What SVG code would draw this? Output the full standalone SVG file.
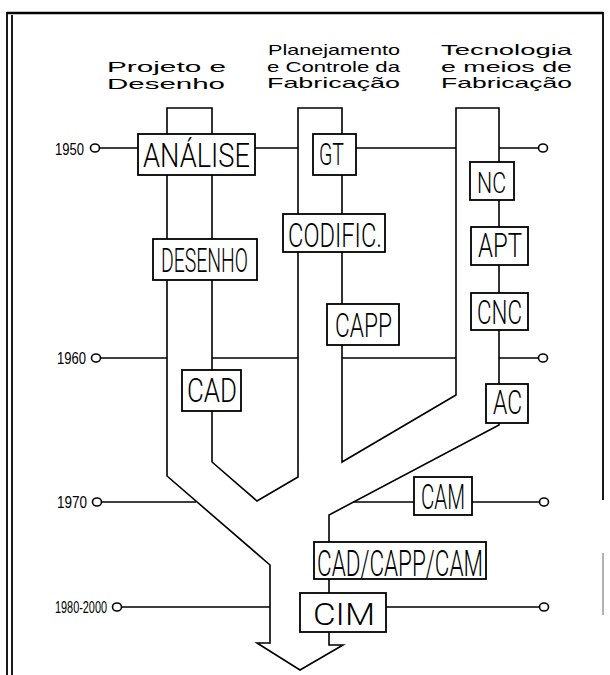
<svg xmlns="http://www.w3.org/2000/svg" width="610" height="675" viewBox="0 0 610 675">
<style>
.ln{fill:none;stroke:#000;stroke-width:1.6;stroke-linejoin:miter}
.bd{fill:none;stroke:#000;stroke-width:1.8}
.box rect{fill:#fff;stroke:#000;stroke-width:1.8}
.box text{font-family:Roboto,"Liberation Sans",sans-serif;font-weight:300;fill:#000}
.hd{font-family:"Liberation Sans",sans-serif;font-size:14.5px;fill:#000}
.yr{font-family:"Liberation Sans",sans-serif;font-size:16px;fill:#000}
.dot{fill:#fff;stroke:#000;stroke-width:1.6}
</style>
<rect width="610" height="675" fill="#fff"/>
<g id="border">
<path class="bd" d="M7,675 V13 H603 V500"/>
<path class="bd" d="M12,675 V15"/>
<path d="M7,13 H603" stroke="#000" stroke-width="2.6"/>
<path d="M603,553 V615" stroke="#999" stroke-width="1.5"/>
</g>
<g id="headers">
<text class="hd" x="107" y="72" textLength="119" lengthAdjust="spacingAndGlyphs">Projeto e</text>
<text class="hd" x="107" y="88.5" textLength="118" lengthAdjust="spacingAndGlyphs">Desenho</text>
<text class="hd" x="268" y="55" textLength="132" lengthAdjust="spacingAndGlyphs">Planejamento</text>
<text class="hd" x="267" y="71.5" textLength="133" lengthAdjust="spacingAndGlyphs">e Controle da</text>
<text class="hd" x="267" y="88" textLength="133" lengthAdjust="spacingAndGlyphs">Fabricação</text>
<text class="hd" x="441" y="55" textLength="131" lengthAdjust="spacingAndGlyphs">Tecnologia</text>
<text class="hd" x="441" y="71.5" textLength="131" lengthAdjust="spacingAndGlyphs">e meios de</text>
<text class="hd" x="441" y="88" textLength="131" lengthAdjust="spacingAndGlyphs">Fabricação</text>
</g>
<g id="years">
<text class="yr" x="55" y="155" textLength="29" lengthAdjust="spacingAndGlyphs">1950</text>
<text class="yr" x="57" y="364" textLength="29" lengthAdjust="spacingAndGlyphs">1960</text>
<text class="yr" x="57" y="508" textLength="30" lengthAdjust="spacingAndGlyphs">1970</text>
<text class="yr" x="55" y="613" textLength="52" lengthAdjust="spacingAndGlyphs">1980-2000</text>
</g>
<g id="connectors">
<path class="ln" d="M167,108 V476 L270,565 V643 H257 L300,670 L343,645 H329 V515 L499,425 V108 H456 V395 L342,462 V108 H298 V477 L257,501 L212,462 V108 Z"/>
<path class="ln" d="M100,148 H138 M255,148 H298 M356,148 H456 M499,148 H539"/>
<path class="ln" d="M101,358 H167 M212,358 H298 M342,358 H456 M499,358 H539"/>
<path class="ln" d="M102,502 H196 M353,502 H414 M472,502 H540"/>
<path class="ln" d="M122,607 H270 M386,607 H540"/>
<ellipse class="dot" cx="95" cy="148" rx="4.5" ry="4"/>
<ellipse class="dot" cx="96" cy="358" rx="4.5" ry="4"/>
<ellipse class="dot" cx="97" cy="502" rx="4.5" ry="4"/>
<ellipse class="dot" cx="117" cy="607" rx="4.5" ry="4"/>
<ellipse class="dot" cx="543" cy="148" rx="4.5" ry="4"/>
<ellipse class="dot" cx="543" cy="358" rx="4.5" ry="4"/>
<ellipse class="dot" cx="544" cy="502" rx="4.5" ry="4"/>
<ellipse class="dot" cx="544" cy="607" rx="4.5" ry="4"/>
</g>
<g id="analise" class="box"><rect x="138" y="134" width="117" height="41"/><text x="143" y="167" font-size="34" textLength="107" lengthAdjust="spacingAndGlyphs">ANÁLISE</text></g>
<g id="gt" class="box"><rect x="313" y="134" width="43" height="41"/><text x="319" y="165" font-size="31" textLength="25" lengthAdjust="spacingAndGlyphs">GT</text></g>
<g id="nc" class="box"><rect x="470" y="162" width="44" height="38"/><text x="477" y="193" font-size="30" textLength="29" lengthAdjust="spacingAndGlyphs">NC</text></g>
<g id="codific" class="box"><rect x="283" y="214" width="102" height="38"/><text x="288" y="247" font-size="34" textLength="94" lengthAdjust="spacingAndGlyphs">CODIFIC.</text></g>
<g id="apt" class="box"><rect x="471" y="227" width="57" height="38"/><text x="478" y="257" font-size="33" textLength="44" lengthAdjust="spacingAndGlyphs">APT</text></g>
<g id="desenho" class="box"><rect x="153" y="239" width="104" height="41"/><text x="161" y="272" font-size="34" textLength="87" lengthAdjust="spacingAndGlyphs">DESENHO</text></g>
<g id="cnc" class="box"><rect x="471" y="293" width="57" height="37"/><text x="477" y="324" font-size="34" textLength="45" lengthAdjust="spacingAndGlyphs">CNC</text></g>
<g id="capp" class="box"><rect x="327" y="304" width="72" height="41"/><text x="335" y="337" font-size="33" textLength="57" lengthAdjust="spacingAndGlyphs">CAPP</text></g>
<g id="cad" class="box"><rect x="182" y="370" width="59" height="41"/><text x="187" y="402" font-size="33" textLength="50" lengthAdjust="spacingAndGlyphs">CAD</text></g>
<g id="ac" class="box"><rect x="486" y="384" width="42" height="39"/><text x="493" y="414" font-size="33" textLength="29" lengthAdjust="spacingAndGlyphs">AC</text></g>
<g id="cam" class="box"><rect x="414" y="477" width="58" height="38"/><text x="421" y="509" font-size="35" textLength="44" lengthAdjust="spacingAndGlyphs">CAM</text></g>
<g id="cadcappcam" class="box"><rect x="314" y="542" width="172" height="37"/><text x="317" y="576" font-size="36" textLength="166" lengthAdjust="spacingAndGlyphs">CAD/CAPP/CAM</text></g>
<g id="cim" class="box"><rect x="300" y="593" width="86" height="39"/><text x="313" y="625" font-size="31" textLength="62" lengthAdjust="spacingAndGlyphs">CIM</text></g>
</svg>
